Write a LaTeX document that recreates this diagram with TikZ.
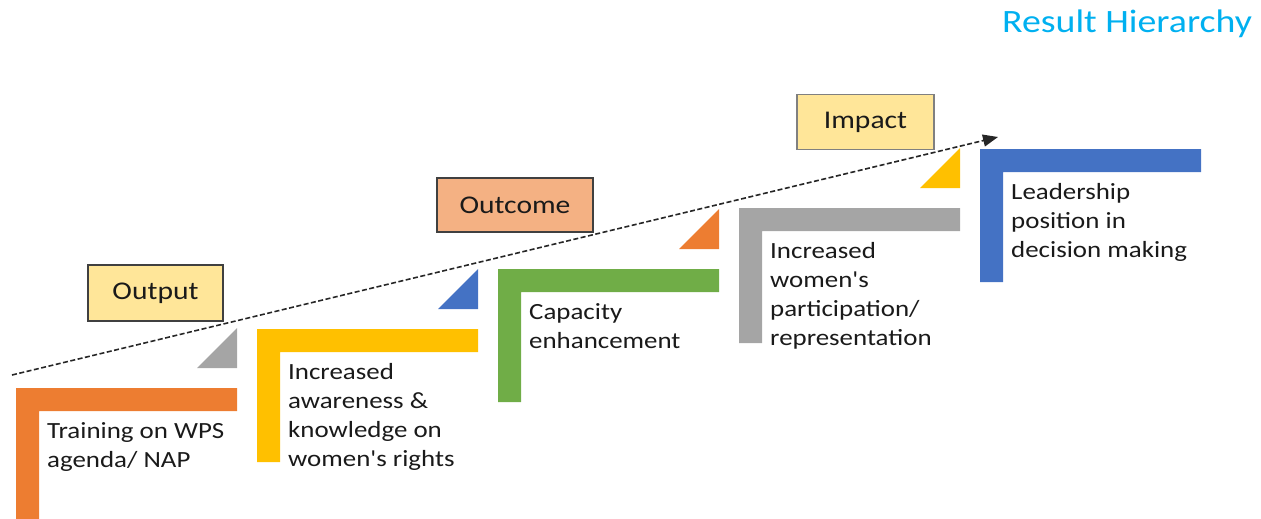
\documentclass[tikz,border=0pt]{standalone}
\usepackage{fontspec}
\setmainfont{Carlito}[FakeStretch=1.16]
\newfontfamily\aposfont{Carlito}[FakeStretch=1.16]
\usetikzlibrary{arrows.meta}
\definecolor{cOrange}{HTML}{ED7D31}
\definecolor{cYellow}{HTML}{FFC000}
\definecolor{cGreen}{HTML}{70AD47}
\definecolor{cGray}{HTML}{A5A5A5}
\definecolor{cBlue}{HTML}{4472C4}
\definecolor{cLightYellow}{HTML}{FFE699}
\definecolor{cPeach}{HTML}{F4B183}
\definecolor{cTitle}{HTML}{00B0F0}
\definecolor{cText}{HTML}{1A1A1A}
\newcommand\apos{{\aposfont'}}
\tikzset{
  bodytext/.style={anchor=north west, inner sep=0pt, align=left, text=cText,
    font=\fontsize{23.2}{29}\selectfont},
  levelbox/.style={draw=black!75, line width=1.4pt, inner sep=0pt, text=cText,
    font=\fontsize{25.5}{30}\selectfont},
  trend/.style={dashed, dash pattern=on 5pt off 2.5pt, line width=1.6pt, black!85,
    -{Triangle[length=15pt,width=12pt]}},
}
% #1 name, #2 left x, #3 top y, #4 bottom y, #5 colour, #6 text
\newcommand\stepbracket[6]{%
  \fill[#5] (#2,#3) -- ({#2+221},#3) -- ({#2+221},{#3+23}) -- ({#2+23},{#3+23})
    -- ({#2+23},#4) -- (#2,#4) -- cycle;
  \node[bodytext] (#1) at ({#2+31},{#3+29.7}) {\strut #6};
}
% #1 right x, #2 bottom y, #3 colour
\newcommand\steptriangle[3]{%
  \fill[#3] (#1,#2) -- (#1,{#2-40}) -- ({#1-40},#2) -- cycle;
}
\begin{document}
\begin{tikzpicture}[x=1pt,y=-1pt]
\useasboundingbox (0,0) rectangle (1261,519);
\stepbracket{s1}{16}{388}{525}{cOrange}{Training on WPS\\agenda/ NAP}
\stepbracket{s2}{257}{329}{462}{cYellow}{Increased\\awareness \&\\knowledge on\\women\apos s rights}
\stepbracket{s3}{498}{269}{402}{cGreen}{Capacity\\enhancement}
\stepbracket{s4}{739}{208}{343}{cGray}{Increased\\women\apos s\\participation/\\representation}
\stepbracket{s5}{980}{149}{282}{cBlue}{Leadership\\position in\\decision making}

\steptriangle{237}{368}{cGray}
\steptriangle{478}{309}{cBlue}
\steptriangle{719}{249}{cOrange}
\steptriangle{960}{188}{cYellow}

\coordinate (tstart) at (12,375);
\coordinate (tend) at (998,137);
\draw[trend] (tstart) -- (tend);

\node[levelbox, fill=cLightYellow, minimum width=135pt, minimum height=56pt] (output) at (155.5,293) {Output};
\node[levelbox, fill=cPeach, minimum width=156pt, minimum height=54pt] (outcome) at (515,205) {Outcome};
\node[levelbox, draw=black!50, fill=cLightYellow, minimum width=137pt, minimum height=55pt] (impact) at (865.5,122) {Impact};

\node[anchor=base west, inner sep=0pt, text=cTitle, font=\fontsize{32.6}{40}\selectfont] (title) at (1002,33) {Result Hierarchy};
\end{tikzpicture}
\end{document}
